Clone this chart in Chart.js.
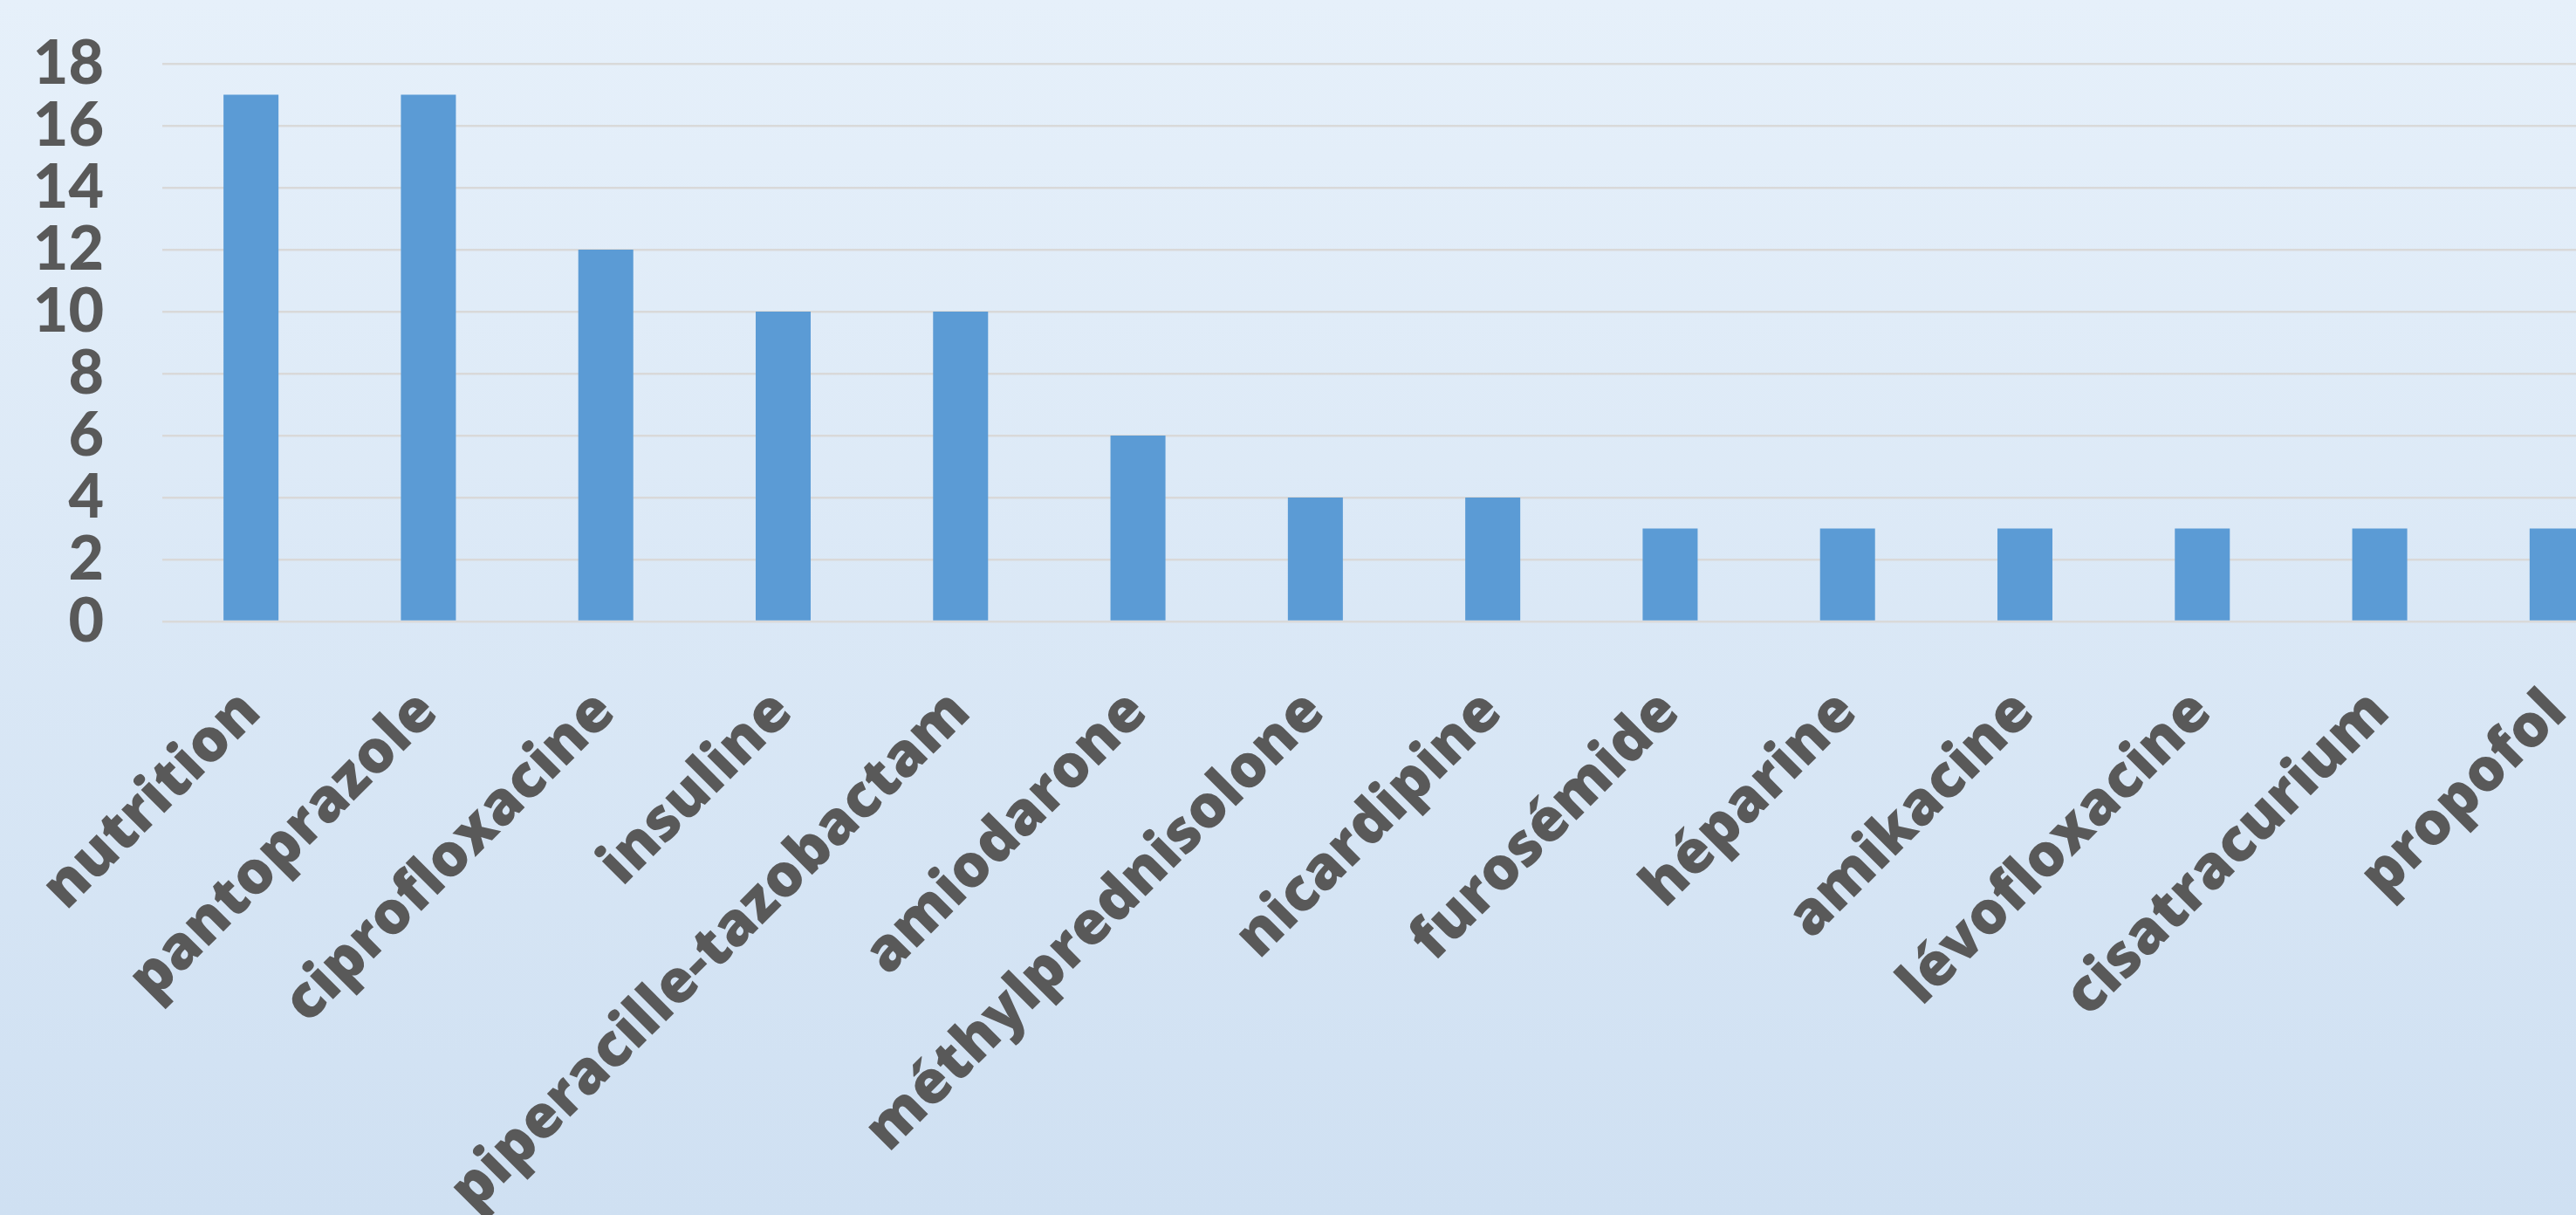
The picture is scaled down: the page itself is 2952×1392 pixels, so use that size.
<!DOCTYPE html>
<html>
<head>
<meta charset="utf-8">
<script src="https://cdn.jsdelivr.net/npm/chart.js@4.4.1/dist/chart.umd.min.js"></script>
<style>
  html, body { margin: 0; padding: 0; overflow: hidden; }
  body { width: 2952px; height: 1392px; background: linear-gradient(to bottom, #e6f0fa 0%, #cfe0f2 100%); }
  #wrap { width: 2952px; height: 1392px; overflow: hidden; position: relative; }
  canvas { display: block; }
</style>
</head>
<body>
<div id="wrap"><canvas id="c" width="3032" height="1392"></canvas></div>
<script>
const categories = ["nutrition", "pantoprazole", "ciprofloxacine", "insuline", "piperacille-tazobactam", "amiodarone", "méthylprednisolone", "nicardipine", "furosémide", "héparine", "amikacine", "lévofloxacine", "cisatracurium", "propofol"];
const values = [17, 17, 12, 10, 10, 6, 4, 4, 3, 3, 3, 3, 3, 3];
const yTicks = [0, 2, 4, 6, 8, 10, 12, 14, 16, 18];

new Chart(document.getElementById('c'), {
  type: 'bar',
  data: {
    labels: categories,
    datasets: [{
      data: values,
      backgroundColor: '#5b9bd5',
      borderWidth: 0,
      barPercentage: 0.31,
      categoryPercentage: 1.0
    }]
  },
  options: {
    responsive: false,
    animation: false,
    layout: { padding: { top: 73, left: 0, right: 0, bottom: 0 } },
    plugins: { legend: { display: false }, tooltip: { enabled: false } },
    scales: {
      x: {
        grid: { display: false, drawTicks: false },
        border: { display: false },
        ticks: {
          autoSkip: false,
          maxRotation: 45,
          minRotation: 45,
          padding: 64,
          color: '#595959',
          font: { family: "'Open Sans'", weight: '800', size: 68 }
        },
        afterFit: (s) => { s.height = 680; s.paddingLeft = 0; s.paddingRight = 0; }
      },
      y: {
        min: 0,
        max: 18,
        afterBuildTicks: (s) => { s.ticks = yTicks.map(v => ({ value: v })); },
        grid: { color: '#d9d9d9', lineWidth: 2.5, drawTicks: false },
        border: { display: false },
        ticks: {
          autoSkip: false,
          padding: 67,
          color: '#595959',
          font: { family: 'Lato', weight: '900', size: 70 }
        },
        afterFit: (s) => { s.width = 186; s.paddingTop = 0; s.paddingBottom = 0; }
      }
    }
  }
});
</script>
</body>
</html>
